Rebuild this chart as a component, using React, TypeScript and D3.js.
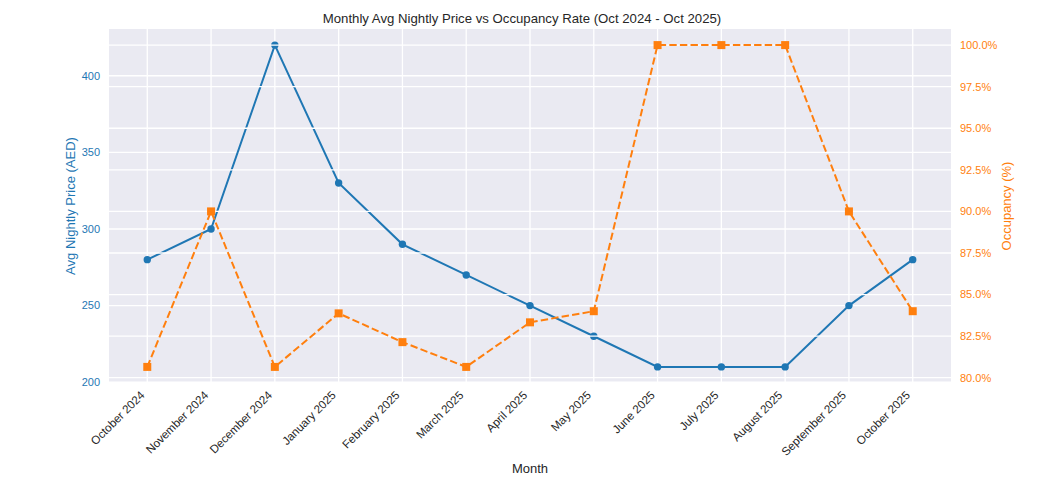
import React from 'react';
import * as d3 from 'd3';

const months = [
  'October 2024', 'November 2024', 'December 2024', 'January 2025', 'February 2025',
  'March 2025', 'April 2025', 'May 2025', 'June 2025', 'July 2025', 'August 2025',
  'September 2025', 'October 2025',
];
const avgPrice = [280, 300, 420, 330, 290, 270, 250, 230, 210, 210, 210, 250, 280];
const occupancy = [80.65, 90.0, 80.65, 83.87, 82.14, 80.65, 83.33, 84.0, 100, 100, 100, 90.0, 84.0];
const priceTicks = [200, 250, 300, 350, 400];
const occTicks = [80, 82.5, 85, 87.5, 90, 92.5, 95, 97.5, 100];

const BLUE = '#1f77b4';
const ORANGE = '#ff7f0e';
const FONT = '"Liberation Sans", Arial, sans-serif';

// matplotlib style 5% margins
const pad = (lo: number, hi: number) => {
  const m = (hi - lo) * 0.05;
  return [lo - m, hi + m];
};

const App = () => {
  const width = 1042;
  const height = 486;
  const left = 109;
  const right = 951;
  const top = 29;
  const bottom = 383;

  const x = d3.scaleLinear().domain([-0.6, months.length - 1 + 0.6]).range([left, right]);
  const yPrice = d3.scaleLinear().domain(pad(d3.min(avgPrice)!, d3.max(avgPrice)!)).range([bottom, top]);
  const yOcc = d3.scaleLinear().domain(pad(d3.min(occupancy)!, d3.max(occupancy)!)).range([bottom, top]);

  const priceLine = d3.line<number>().x((_, i) => x(i)).y(d => yPrice(d));
  const occLine = d3.line<number>().x((_, i) => x(i)).y(d => yOcc(d));

  const grid = (lines: number[]) =>
    lines.map((v, i) => (
      <line key={i} x1={left} x2={right} y1={v} y2={v} stroke="#fff" strokeWidth={1.3} />
    ));

  return (
    <svg width={width} height={height} style={{ position: 'absolute', left: 0, top: 0, background: '#fff' }}>
      <rect x={left} y={top} width={right - left} height={bottom - top} fill="#eaeaf2" />

      {/* left axis layer */}
      {grid(priceTicks.map(t => yPrice(t)))}
      {months.map((_, i) => (
        <line key={i} x1={x(i)} x2={x(i)} y1={top} y2={bottom} stroke="#fff" strokeWidth={1.3} />
      ))}
      <path d={priceLine(avgPrice)!} fill="none" stroke={BLUE} strokeWidth={2} />
      {avgPrice.map((d, i) => (
        <circle key={i} cx={x(i)} cy={yPrice(d)} r={3.7} fill={BLUE} />
      ))}

      {/* right axis layer on top */}
      {grid(occTicks.map(t => yOcc(t)))}
      <path d={occLine(occupancy)!} fill="none" stroke={ORANGE} strokeWidth={2} strokeDasharray="7.4 3.2" />
      {occupancy.map((d, i) => (
        <rect key={i} x={x(i) - 4} y={yOcc(d) - 4} width={8} height={8} fill={ORANGE} />
      ))}

      {/* left ticks */}
      {priceTicks.map(t => (
        <text key={t} x={100} y={yPrice(t)} dy="0.35em" textAnchor="end" fill={BLUE}
          fontFamily={FONT} fontSize={11}>{t}</text>
      ))}
      <text transform={`translate(75,${(top + bottom) / 2}) rotate(-90)`} textAnchor="middle"
        fill={BLUE} fontFamily={FONT} fontSize={13}>Avg Nightly Price (AED)</text>

      {/* right ticks */}
      {occTicks.map(t => (
        <text key={t} x={960} y={yOcc(t)} dy="0.35em" textAnchor="start" fill={ORANGE}
          fontFamily={FONT} fontSize={11}>{t.toFixed(1)}%</text>
      ))}
      <text transform={`translate(1011,${(top + bottom) / 2}) rotate(-90)`} textAnchor="middle"
        fill={ORANGE} fontFamily={FONT} fontSize={13}>Occupancy (%)</text>

      {/* x tick labels */}
      {months.map((m, i) => (
        <text key={m} transform={`translate(${x(i) - 2},${bottom + 13}) rotate(-45)`} textAnchor="end"
          fill="#262626" fontFamily={FONT} fontSize={11.6}>{m}</text>
      ))}
      <text x={(left + right) / 2} y={473} textAnchor="middle" fill="#262626" fontFamily={FONT} fontSize={13}>Month</text>

      <text x={522} y={23} textAnchor="middle" fill="#262626" fontFamily={FONT} fontSize={13.2}>
        Monthly Avg Nightly Price vs Occupancy Rate (Oct 2024 - Oct 2025)
      </text>
    </svg>
  );
};

export default App;
